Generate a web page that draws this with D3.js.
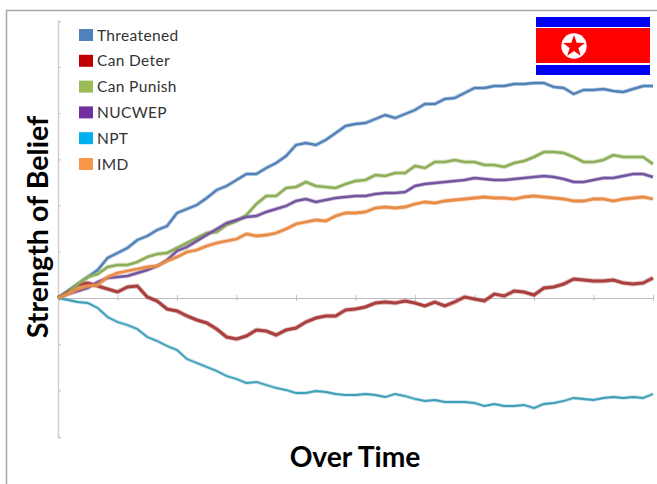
<!DOCTYPE html>
<html>
<head>
<meta charset="utf-8">
<script src="https://cdn.jsdelivr.net/npm/d3@7"></script>
<style>
html, body { margin: 0; padding: 0; background: #fff; }
</style>
</head>
<body>
<div id="chart"></div>
<script>
// Data, one value per time step
var names = ["Threatened", "Can Deter", "Can Punish", "NUCWEP", "NPT", "IMD"];
var threatened = [0,7,14,21,28,40,45,50,58,62,68,72,85,89,93,100,108,112,118,124,124,130,135,142,153,155,153,158,165,172,174,175,179,183,180,184,188,194,194,199,200,205,210,210,212,212,214,214,215,215,211,210,204,208,208,209,207,206,209,212,212];
var canDeter = [0,6,13,15,12,9,6,11,12,1,-3,-11,-13,-18,-22,-25,-31,-39,-41,-38,-32,-33,-37,-32,-30,-24,-20,-18,-18,-12,-11,-9,-5,-4,-5,-3,-5,-8,-4,-8,-4,1,-1,-3,4,2,7,6,3,10,11,14,19,18,17,17,18,15,14,15,20];
var canPunish = [0,5,14,21,24,31,33,33,36,41,44,45,50,55,60,65,66,73,77,83,94,102,102,110,111,116,112,111,110,114,117,118,123,122,125,125,132,130,136,136,138,136,136,133,133,131,135,137,141,146,146,145,141,136,136,138,143,141,141,141,134];
var nucwep = [0,4,7,10,16,20,21,22,25,28,32,38,47,51,57,63,69,75,78,81,82,86,89,92,97,99,96,98,100,101,102,102,104,105,105,106,112,114,115,116,117,118,120,119,118,118,119,120,121,122,121,119,116,116,118,120,120,122,124,124,121];
var npt = [0,-2,-4,-5,-10,-19,-24,-27,-31,-39,-43,-48,-52,-61,-65,-69,-73,-78,-81,-85,-84,-87,-90,-92,-95,-95,-93,-94,-96,-97,-97,-96,-97,-99,-96,-98,-101,-103,-102,-104,-104,-104,-105,-108,-106,-108,-108,-107,-110,-106,-105,-103,-100,-101,-102,-100,-99,-100,-99,-100,-96];
var imd = [0,4,9,12,13,21,25,27,29,31,32,37,41,46,48,52,55,57,59,64,62,63,65,69,74,76,78,77,82,85,85,86,90,91,90,91,94,96,95,97,98,99,100,101,100,100,99,101,102,101,100,99,97,97,99,99,97,99,100,101,99];
var xTicks = [0, 6, 12, 18, 24, 30, 36, 42, 48, 54, 60];
var yTicks = [-139, -92.4, -46.2, 0, 46.2, 92.4, 138.6, 184.8, 231, 277];

var seriesValues = [threatened, canDeter, canPunish, nucwep, npt, imd];
var lineColors = ["#5282b8", "#a93f3f", "#8eae5a", "#75559f", "#3f9fb9", "#e88c48"];
var legendColors = ["#4f81bd", "#c00000", "#9bbb59", "#7030a0", "#00b0f0", "#f79646"];
var lineWidths = [2.4, 3, 2.6, 2.4, 1.8, 2.8];

var width = 657;
var height = 484;

var svg = d3.select("#chart")
    .append("svg")
    .attr("width", width)
    .attr("height", height)
    .style("display", "block");

// Outer frame, only top and left are in view
svg.append("path")
    .attr("d", "M6.5,484V10.5H657")
    .attr("fill", "none")
    .attr("stroke", "#a6a6a6")
    .attr("stroke-width", 1.5);

var x = d3.scaleLinear().domain([0, 60]).range([58, 653]);
var y = d3.scaleLinear().domain([-139, 277]).range([437, 21]);

// Axes without labels
var yAxis = svg.append("g")
    .attr("transform", "translate(58,0)")
    .call(d3.axisRight(y).tickValues(yTicks).tickSize(3).tickFormat(""));
var xAxis = svg.append("g")
    .attr("transform", "translate(0," + y(0) + ")")
    .call(d3.axisBottom(x).tickValues(xTicks).tickSize(3).tickSizeOuter(0).tickFormat(""));
xAxis.selectAll(".tick line").attr("y1", -3);
yAxis.select(".domain").attr("stroke", "#d0d0d0").attr("stroke-width", 1.5);
xAxis.select(".domain").attr("stroke", "#bdbdbd").attr("stroke-width", 1.2);
svg.selectAll(".tick line").attr("stroke", "#c4c4c4");

var line = d3.line()
    .x(function (d, i) { return x(i); })
    .y(function (d) { return y(d); });

// Each series: pale halo for the marker edges, then the solid core
seriesValues.forEach(function (values, i) {
    svg.append("path")
        .datum(values)
        .attr("d", line)
        .attr("fill", "none")
        .attr("stroke", lineColors[i])
        .attr("stroke-opacity", 0.35)
        .attr("stroke-width", lineWidths[i] + 1.8);
    svg.append("path")
        .datum(values)
        .attr("d", line)
        .attr("fill", "none")
        .attr("stroke", lineColors[i])
        .attr("stroke-width", lineWidths[i]);
});

// Legend
var legendY = d3.scalePoint().domain(names).range([35, 164]);
var legend = svg.selectAll("g.legend")
    .data(names)
    .enter()
    .append("g")
    .attr("class", "legend")
    .attr("transform", function (d) { return "translate(79," + legendY(d) + ")"; });
legend.append("rect")
    .attr("y", -6)
    .attr("width", 14)
    .attr("height", 12)
    .attr("fill", function (d, i) { return legendColors[i]; });
legend.append("text")
    .attr("x", 18)
    .attr("y", 5.5)
    .attr("font-family", "Lato, sans-serif")
    .attr("font-size", 15.5)
    .attr("letter-spacing", 0.35)
    .attr("fill", "#333")
    .text(function (d) { return d; });

// Axis titles
svg.append("text")
    .attr("transform", "translate(48,227) rotate(-90)")
    .attr("text-anchor", "middle")
    .attr("font-family", "Lato, sans-serif")
    .attr("font-weight", "bold")
    .attr("font-size", 28.6)
    .text("Strength of Belief");
svg.append("text")
    .attr("x", 355)
    .attr("y", 467)
    .attr("text-anchor", "middle")
    .attr("font-family", "Lato, sans-serif")
    .attr("font-weight", "bold")
    .attr("font-size", 28.2)
    .text("Over Time");

// Flag in the top right corner
var flag = svg.append("g").attr("transform", "translate(536,17)");
flag.append("rect").attr("width", 114).attr("height", 10).attr("fill", "#0000f5");
flag.append("rect").attr("y", 48).attr("width", 114).attr("height", 10).attr("fill", "#0000f5");
flag.append("rect").attr("y", 11).attr("width", 114).attr("height", 35).attr("fill", "#fe0000");
flag.append("circle").attr("cx", 38).attr("cy", 29).attr("r", 12.7).attr("fill", "#fff");
var star = d3.range(10).map(function (i) {
    var r = i % 2 === 0 ? 11.5 : 4.6;
    var a = i * Math.PI / 5;
    return [38 + r * Math.sin(a), 29.5 - r * Math.cos(a)];
});
flag.append("polygon").attr("points", star.join(" ")).attr("fill", "#fe0000");
</script>
</body>
</html>
